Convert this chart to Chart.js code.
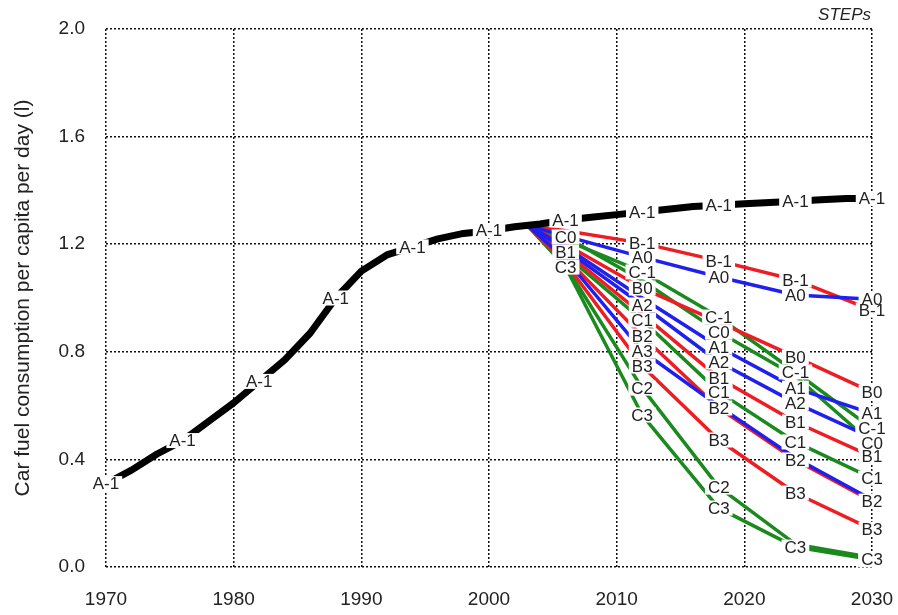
<!DOCTYPE html>
<html>
<head>
<meta charset="utf-8">
<script src="https://cdn.jsdelivr.net/npm/chart.js@4/dist/chart.umd.min.js"></script>
<style>
  html, body { margin: 0; padding: 0; background: #fff; }
  #wrap { width: 898px; height: 615px; position: relative; }
</style>
</head>
<body>
<div id="wrap"><canvas id="c" width="898" height="615"></canvas></div>
<script>
// ---- Data ----
const histYears = [1970,1972,1974,1976,1978,1980,1982,1984,1986,1988,1990,1992,1994,1996,1998,2000,2002,2004,2006,2008,2010,2012,2014,2016,2018,2020,2022,2024,2026,2028,2030];
const A_m1 = [0.31,0.36,0.42,0.47,0.54,0.61,0.69,0.77,0.87,1.00,1.10,1.16,1.19,1.22,1.24,1.25,1.265,1.275,1.29,1.30,1.31,1.32,1.33,1.34,1.345,1.35,1.355,1.36,1.365,1.37,1.37];
const A_m1_labelYears = [1970,1976,1982,1988,1994,2000,2006,2012,2018,2024,2030];

const scenYears = [2003, 2006, 2012, 2018, 2024, 2030];
const B_m1 = [1.27, 1.25, 1.204, 1.138, 1.067, 0.955];
const A0   = [1.27, 1.23, 1.152, 1.078, 1.011, 0.995];
const C_m1 = [1.27, 1.215, 1.097, 0.929, 0.725, 0.515];
const C0   = [1.27, 1.227, 1.065, 0.874, 0.71, 0.46];
const B0   = [1.27, 1.20, 1.037, 0.91, 0.781, 0.65];
const A1   = [1.27, 1.19, 1.0, 0.818, 0.665, 0.57];
const A2   = [1.27, 1.18, 0.974, 0.762, 0.610, 0.48];
const B1   = [1.27, 1.171, 0.94, 0.703, 0.539, 0.41];
const C1   = [1.27, 1.16, 0.918, 0.651, 0.465, 0.33];
const B2   = [1.27, 1.15, 0.859, 0.591, 0.398, 0.245];
const A3   = [1.27, 1.145, 0.803, 0.598, 0.405, 0.25];
const B3   = [1.27, 1.13, 0.747, 0.472, 0.275, 0.14];
const C2   = [1.27, 1.12, 0.665, 0.297, 0.085, 0.035];
const C3   = [1.27, 1.115, 0.565, 0.219, 0.074, 0.028];

// label positions (years at which each line carries its name)
const labelsB_m1 = [2012, 2018, 2024, 2030];
const labelsA0   = [2012, 2018, 2024, 2030];
const labelsC_m1 = [2012, 2018, 2024, 2030];
const labelsC0   = [2006, 2018, 2030];
const labelsB0   = [2012, 2024, 2030];
const labelsA1   = [2018, 2024, 2030];
const labelsA2   = [2012, 2018, 2024];
const labelsB1   = [2006, 2018, 2024, 2030];
const labelsC1   = [2012, 2018, 2024, 2030];
const labelsB2   = [2012, 2018, 2024, 2030];
const labelsA3   = [2012];
const labelsB3   = [2012, 2018, 2024, 2030];
const labelsC2   = [2012, 2018];
const labelsC3   = [2006, 2012, 2018, 2024, 2030];

const xTicks = [1970, 1980, 1990, 2000, 2010, 2020, 2030];
const yTicks = [0.0, 0.4, 0.8, 1.2, 1.6, 2.0];

// ---- Styles ----
const RED = '#ee1d23', BLUE = '#1f1fee', GREEN = '#1b8a1e', BLACK = '#000';

function pts(xs, ys) { return xs.map((x, i) => ({x: x, y: ys[i]})); }
function ds(name, xs, ys, color, width, labelYears) {
  return {
    label: name, data: pts(xs, ys), borderColor: color, backgroundColor: color,
    borderWidth: width, pointRadius: 0, tension: 0, fill: false,
    borderJoinStyle: 'round', borderCapStyle: 'butt', labelYears: labelYears
  };
}

// dataset index 0 is drawn on top
const datasets = [
  ds('A-1', histYears, A_m1, BLACK, 7, A_m1_labelYears),
  ds('A0', scenYears, A0, BLUE, 3.5, labelsA0),
  ds('A1', scenYears, A1, BLUE, 3.5, labelsA1),
  ds('A2', scenYears, A2, BLUE, 3.5, labelsA2),
  ds('A3', scenYears, A3, BLUE, 3.5, labelsA3),
  ds('B-1', scenYears, B_m1, RED, 3.5, labelsB_m1),
  ds('B0', scenYears, B0, RED, 3.5, labelsB0),
  ds('B1', scenYears, B1, RED, 3.5, labelsB1),
  ds('B2', scenYears, B2, RED, 3.5, labelsB2),
  ds('B3', scenYears, B3, RED, 3.5, labelsB3),
  ds('C-1', scenYears, C_m1, GREEN, 3.5, labelsC_m1),
  ds('C0', scenYears, C0, GREEN, 3.5, labelsC0),
  ds('C1', scenYears, C1, GREEN, 3.5, labelsC1),
  ds('C2', scenYears, C2, GREEN, 3.5, labelsC2),
  ds('C3', scenYears, C3, GREEN, 3.5, labelsC3)
];

const lineLabels = {
  id: 'lineLabels',
  afterDatasetsDraw(chart) {
    const {ctx, scales: {x, y}} = chart;
    ctx.save();
    ctx.font = '17px "Liberation Sans", Arial, sans-serif';
    ctx.textAlign = 'center';
    ctx.textBaseline = 'middle';
    const items = [];
    chart.data.datasets.forEach(d => {
      (d.labelYears || []).forEach(yr => {
        const p = d.data.find(q => q.x === yr);
        if (!p) return;
        items.push({text: d.label, px: x.getPixelForValue(p.x), py: y.getPixelForValue(p.y)});
      });
    });
    ctx.fillStyle = '#fff';
    items.forEach(it => {
      const w = ctx.measureText(it.text).width;
      ctx.fillRect(it.px - w / 2 - 3, it.py - 7.5, w + 6, 15);
    });
    ctx.fillStyle = '#222';
    items.forEach(it => ctx.fillText(it.text, it.px, it.py + 1));
    ctx.restore();
  }
};

const extras = {
  id: 'extras',
  beforeDraw(chart) {
    const ctx = chart.ctx;
    ctx.save();
    ctx.fillStyle = '#fff';
    ctx.fillRect(0, 0, chart.width, chart.height);
    ctx.restore();
  },
  afterDraw(chart) {
    const ctx = chart.ctx;
    ctx.save();
    ctx.font = 'italic 17px "Liberation Sans", Arial, sans-serif';
    ctx.fillStyle = '#222';
    ctx.textAlign = 'right';
    ctx.textBaseline = 'middle';
    ctx.fillText('STEPs', chart.chartArea.right - 1, 15);
    ctx.restore();
  }
};

new Chart(document.getElementById('c'), {
  type: 'line',
  data: { datasets: datasets },
  options: {
    responsive: false,
    animation: false,
    layout: { padding: { top: 29, right: 26, left: 0, bottom: 0 } },
    plugins: { legend: { display: false }, tooltip: { enabled: false }, title: { display: false } },
    scales: {
      x: {
        type: 'linear', min: 1970, max: 2030,
        afterBuildTicks: s => { s.ticks = xTicks.map(v => ({value: v})); },
        afterFit: s => { s.height = 48; s.paddingLeft = 0; s.paddingRight = 0; },
        ticks: { callback: v => String(v), color: '#222', padding: 21,
                 font: { family: '"Liberation Sans", Arial, sans-serif', size: 19 }, maxRotation: 0 },
        grid: { color: '#111', lineWidth: 1.5, drawTicks: false },
        border: { display: false, dash: [2, 2] }
      },
      y: {
        type: 'linear', min: 0, max: 2.0,
        afterBuildTicks: s => { s.ticks = yTicks.map(v => ({value: v})); },
        afterFit: s => { s.width = 106; s.paddingTop = 0; s.paddingBottom = 0; },
        ticks: { callback: v => Number(v).toFixed(1), color: '#222', padding: 21,
                 font: { family: '"Liberation Sans", Arial, sans-serif', size: 19 } },
        grid: { color: '#111', lineWidth: 1.5, drawTicks: false },
        border: { display: false, dash: [2, 2] },
        title: { display: true, text: 'Car fuel consumption per capita per day (l)', color: '#222',
                 font: { family: '"Liberation Sans", Arial, sans-serif', size: 21 }, padding: { top: 11, bottom: 0 } }
      }
    }
  },
  plugins: [extras, lineLabels]
});
</script>
</body>
</html>
